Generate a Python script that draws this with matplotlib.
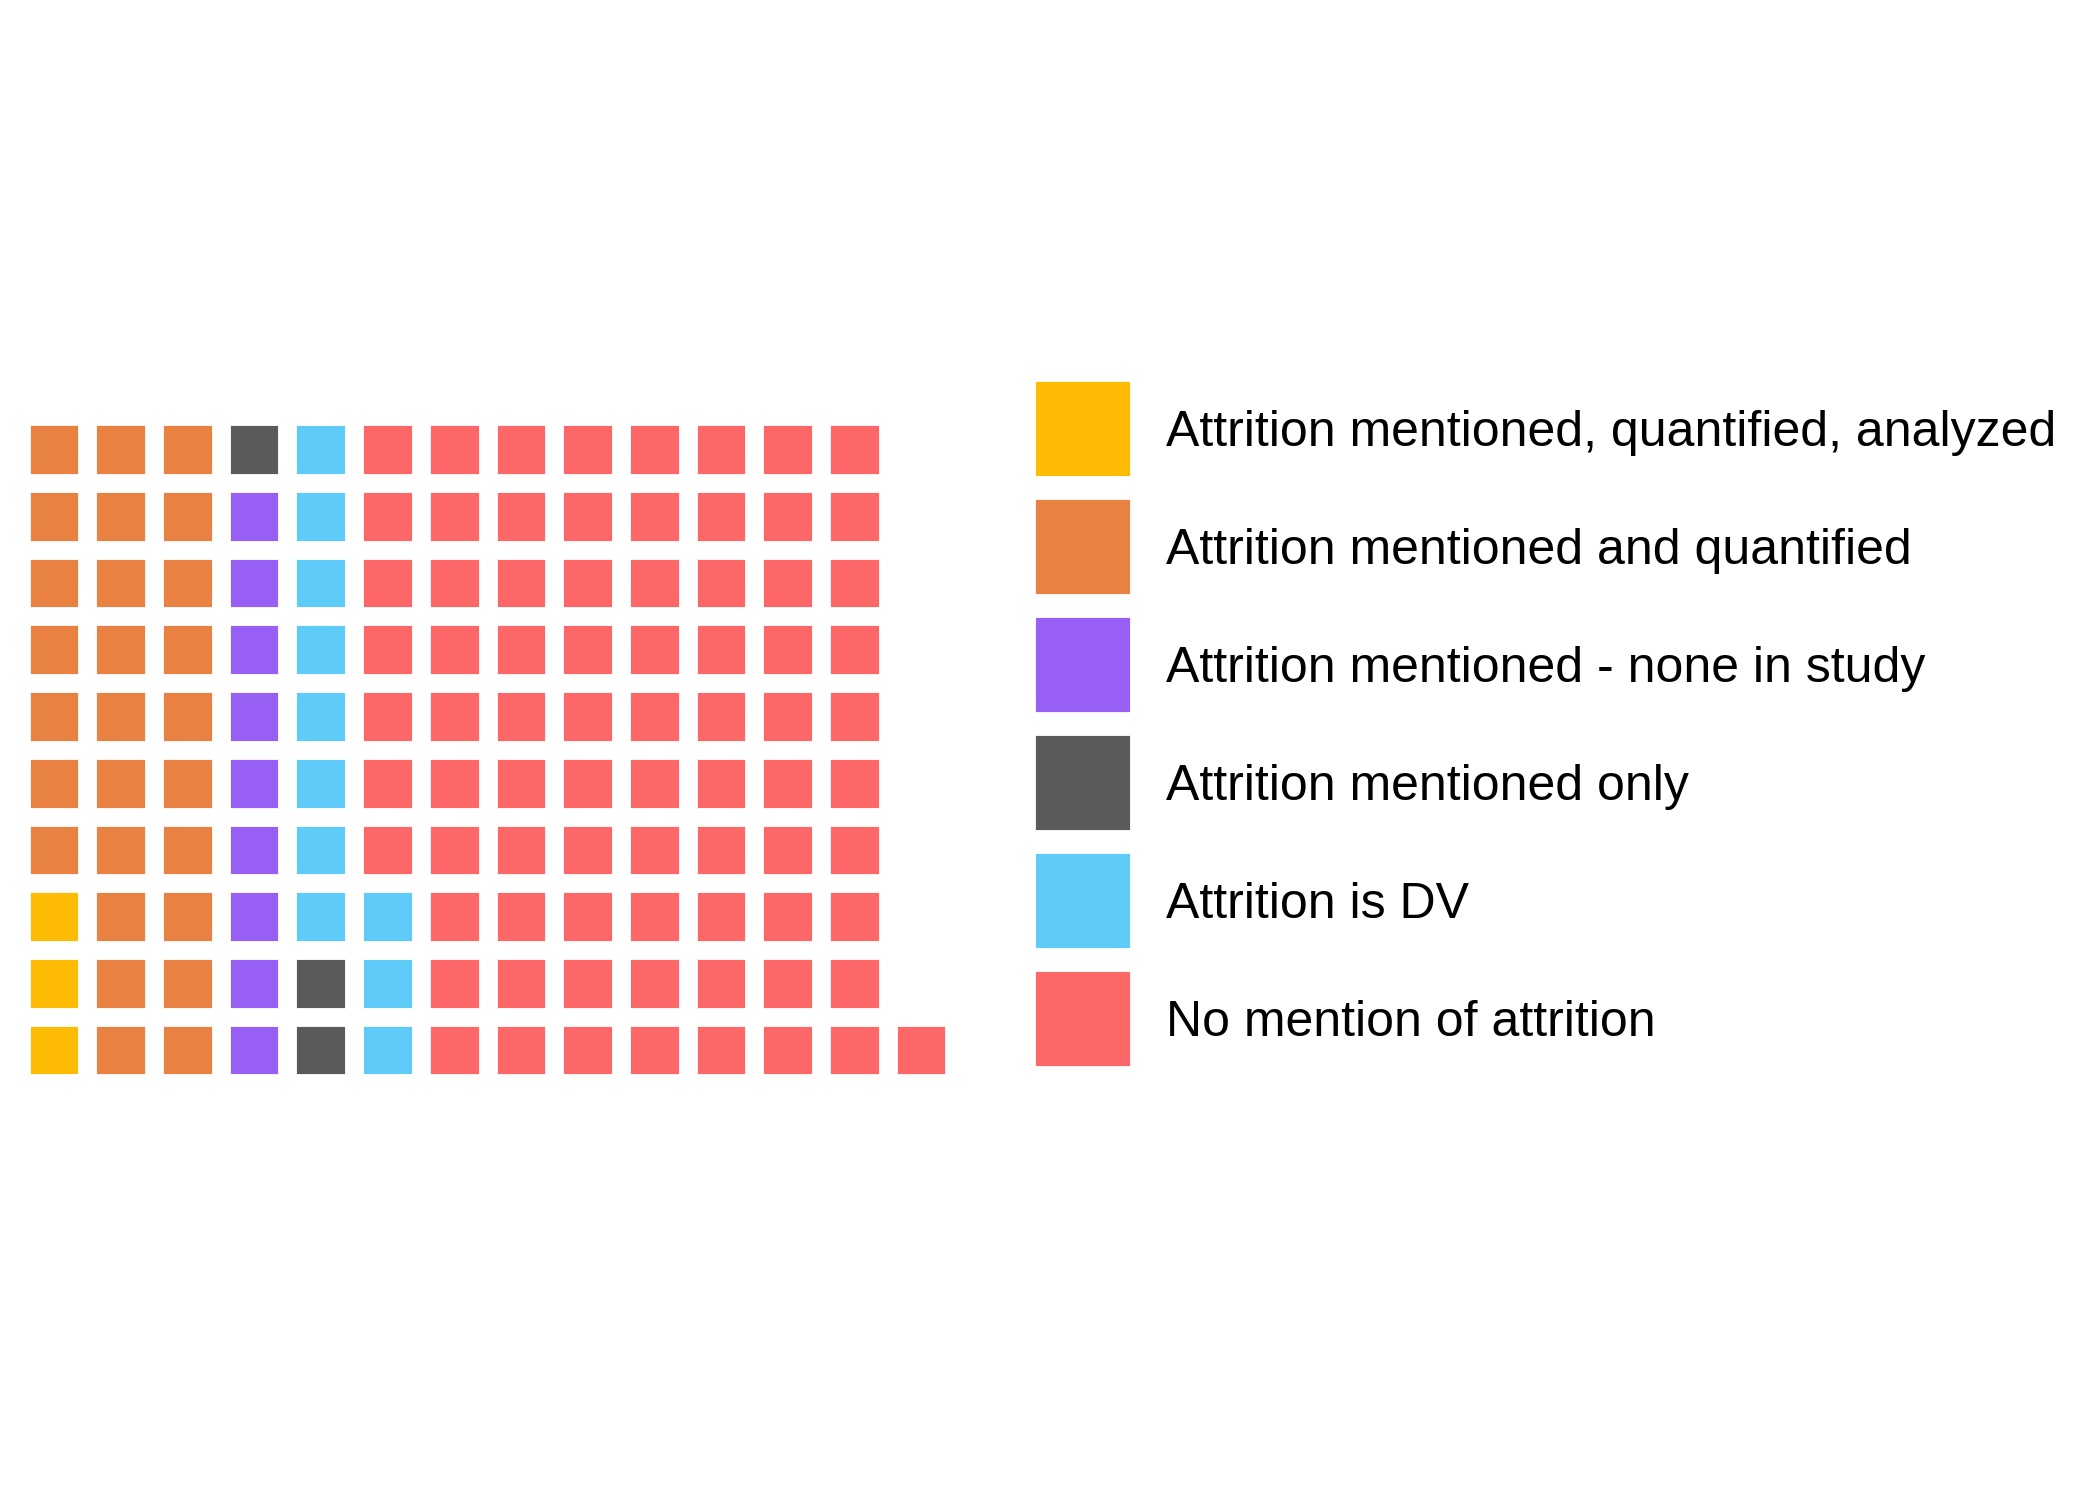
import numpy as np
import matplotlib
matplotlib.use("Agg")
import matplotlib.pyplot as plt

plt.rcParams['font.family'] = ['Liberation Sans', 'DejaVu Sans']

# waffle data: one square per study, filled bottom-up, column by column
categories = [
    "Attrition mentioned, quantified, analyzed",
    "Attrition mentioned and quantified",
    "Attrition mentioned - none in study",
    "Attrition mentioned only",
    "Attrition is DV",
    "No mention of attrition",
]
counts = [3, 27, 9, 3, 11, 78]
colors = ["#FDBB03", "#E88142", "#985FF5", "#5A5A5A", "#5ECBF8", "#FE6767"]

N_ROWS = 10
CELL = 0.73          # square size relative to grid pitch
PX = 66.7            # pixels per grid unit at 300 dpi


def waffle_positions(counts, n_rows):
    idx = np.arange(sum(counts))
    cols = idx // n_rows
    rows = idx % n_rows
    out = []
    start = 0
    for c in counts:
        out.append((cols[start:start + c], rows[start:start + c]))
        start += c
    return out


fig = plt.figure(figsize=(7, 5), dpi=300)
ax = fig.add_axes([0, 0, 1, 1])
ax.set_xlim((0 - 54) / PX, (2100 - 54) / PX)
ax.set_ylim((1050 - 1500) / PX, (1050 - 0) / PX)
ax.set_aspect("equal")
ax.axis("off")

for (x, y), col in zip(waffle_positions(counts, N_ROWS), colors):
    ax.bar(x, CELL, bottom=y - CELL / 2, width=CELL, color=col,
           edgecolor="white", linewidth=0.2)

# legend drawn as squares + labels to the right of the grid
leg_x = (1035 - 54) / PX
leg_w = 95 / PX
leg_y0 = (1050 - 428.3) / PX
leg_step = 118 / PX
txt_x = (1166 - 54) / PX
for i, (lab, col) in enumerate(zip(categories, colors)):
    yc = leg_y0 - i * leg_step
    ax.bar(leg_x + leg_w / 2, leg_w, bottom=yc - leg_w / 2, width=leg_w,
           color=col, edgecolor="white", linewidth=0.2)
    ax.text(txt_x, yc - 18 / PX, lab, fontsize=12.0, va="baseline",
            ha="left", color="black")

fig.savefig("out.png", dpi=300)
